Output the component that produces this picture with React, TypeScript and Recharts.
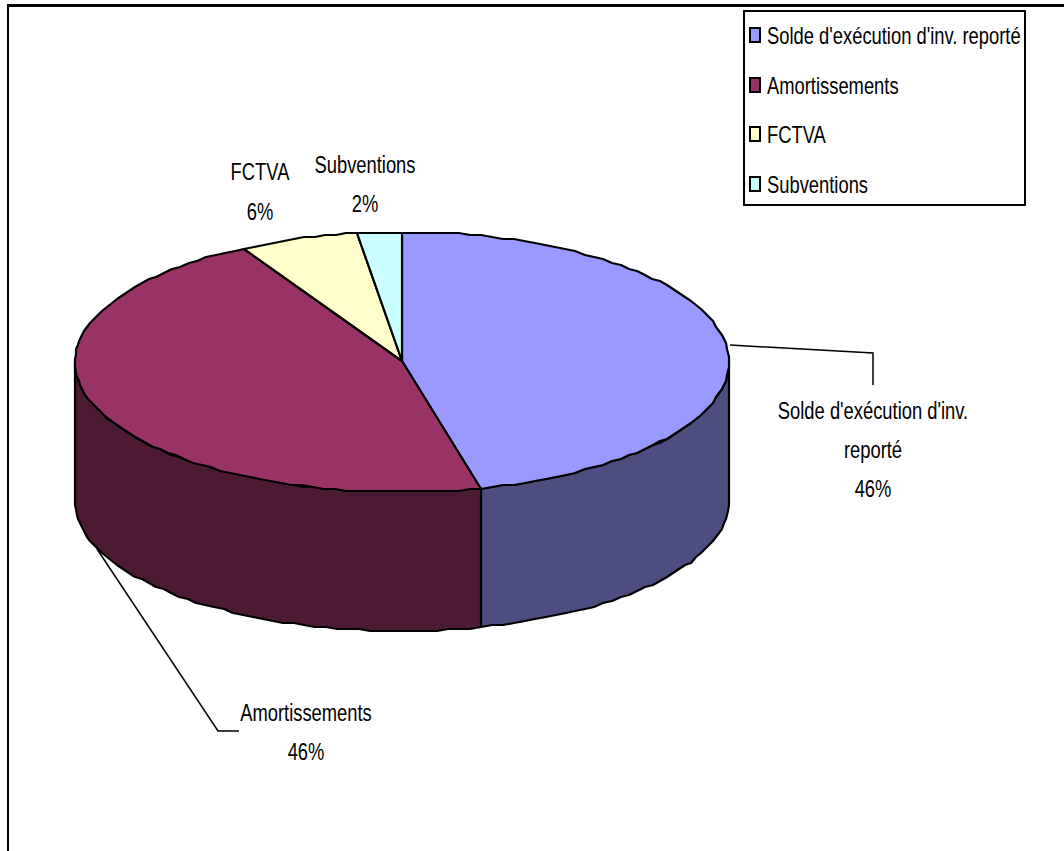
import { PieChart, Pie, Legend } from 'recharts'

const categories = ["Solde d'exécution d'inv. reporté", 'Amortissements', 'FCTVA', 'Subventions']
const values = [46.1, 45.9, 5.8, 2.2]
const topColors = ['#9999ff', '#993366', '#ffffcc', '#ccffff']
const wallColors = ['#4d4d80', '#4d1a33', '#80806a', '#6a8080']

const topData = categories.map((name, i) => ({ name, value: values[i], fill: topColors[i] }))
const wallData = categories.map((name, i) => ({ name, value: values[i], fill: wallColors[i] }))

const FONT = '"Liberation Sans", Arial, sans-serif'
const FONT_SIZE = 24
const SQUASH = 0.765
const Y_RATIO = 130 / 327
const DEPTH = 139

// where each label goes, baselines of every line and the leader if there is one
const labelLayout = [
  { x: 873, lines: ["Solde d'exécution d'inv.", 'reporté'], ys: [419, 458, 497], leader: '730,345 873,353 873,385' },
  { x: 306, lines: ['Amortissements'], ys: [721, 760], leader: '97,549 218,731 239,731' },
  { x: 260, lines: ['FCTVA'], ys: [180, 220], leader: '' },
  { x: 365, lines: ['Subventions'], ys: [173, 212], leader: '' },
]

const snap = (v: number) => Math.round(v / 2) * 2

function rim(cx: number, cy: number, r: number, from: number, to: number) {
  const pts: string[] = []
  const steps = Math.max(1, Math.ceil(Math.abs(to - from) / 2))
  for (let i = 0; i <= steps; i++) {
    const a = ((from + ((to - from) * i) / steps) * Math.PI) / 180
    pts.push(`${Math.round(cx + r * Math.cos(a))} ${snap(cy - r * Y_RATIO * Math.sin(a)) + 1}`)
  }
  return pts
}

function TopSector(props: any) {
  const { cx, cy, outerRadius, startAngle, endAngle, fill } = props
  const pts = rim(cx, cy, outerRadius, startAngle, endAngle)
  return <path d={`M${cx} ${cy} L${pts.join(' L')} Z`} fill={fill} stroke="#000" strokeWidth={2.2} strokeLinejoin="round" />
}

function WallSector(props: any) {
  const { cx, cy, outerRadius, startAngle, endAngle, fill } = props
  // only the front half of the cylinder shows
  const hi = Math.min(startAngle, 0)
  const lo = Math.max(endAngle, -180)
  if (hi <= lo) return <g />
  const upper = rim(cx, cy, outerRadius, hi, lo)
  const lower = rim(cx, cy + DEPTH, outerRadius, lo, hi)
  return <path d={`M${upper.join(' L')} L${lower.join(' L')} Z`} fill={fill} stroke="#000" strokeWidth={2.2} strokeLinejoin="round" />
}

function renderLabel(props: any) {
  const { index, percent } = props
  const l = labelLayout[index]
  const texts = [...l.lines, `${Math.round(percent * 100)}%`]
  return (
    <g key={index}>
      {l.leader && <polyline points={l.leader} fill="none" stroke="#000" strokeWidth={1.5} />}
      {texts.map((t, i) => (
        <text
          key={i}
          transform={`translate(${l.x} ${l.ys[i]}) scale(${SQUASH} 1)`}
          textAnchor="middle"
          fontFamily={FONT}
          fontSize={FONT_SIZE}
          fill="#000"
        >
          {t}
        </text>
      ))}
    </g>
  )
}

function LegendBox({ payload }: any) {
  // the wall pie also lands in the payload, only the top colours belong in the box
  const rows = (payload || []).filter((entry: any) => topColors.includes(entry.color))
  return (
    <div style={{ width: 283, height: 196, boxSizing: 'border-box', border: '2px solid #000', background: '#fff', position: 'relative' }}>
      {rows.map((entry: any, i: number) => (
        <div key={entry.value} style={{ position: 'absolute', left: 4, top: 13 + i * 49.7, height: 20, display: 'flex', alignItems: 'center', whiteSpace: 'nowrap' }}>
          <span style={{ width: 12, height: 16, boxSizing: 'border-box', border: '2px solid #000', background: entry.color, marginRight: 6, flex: 'none' }} />
          <span style={{ fontFamily: FONT, fontSize: FONT_SIZE, color: '#000', transform: `scaleX(${SQUASH})`, transformOrigin: 'left center', position: 'relative', top: 1 }}>{entry.value}</span>
        </div>
      ))}
    </div>
  )
}

export default function App() {
  return (
    <div style={{ position: 'absolute', left: 0, top: 0, width: 1064, height: 851, background: '#fff', overflow: 'hidden' }}>
      <div style={{ position: 'absolute', left: 7, top: 4, width: 1057, height: 3, background: '#000' }} />
      <div style={{ position: 'absolute', left: 7, top: 4, width: 2, height: 847, background: '#000' }} />
      <div style={{ position: 'absolute', left: 0, top: 0 }}>
        <PieChart width={1064} height={851} margin={{ top: 0, right: 0, bottom: 0, left: 0 }}>
          <Pie
            data={wallData}
            dataKey="value"
            nameKey="name"
            cx={402}
            cy={361}
            outerRadius={327}
            startAngle={90}
            endAngle={-270}
            legendType="none"
            shape={WallSector}
            isAnimationActive={false}
          />
          <Pie
            data={topData}
            dataKey="value"
            nameKey="name"
            cx={402}
            cy={361}
            outerRadius={327}
            startAngle={90}
            endAngle={-270}
            shape={TopSector}
            label={renderLabel}
            labelLine={false}
            isAnimationActive={false}
          />
          <Legend content={<LegendBox />} itemSorter={null} layout="vertical" align="right" verticalAlign="top" wrapperStyle={{ position: 'absolute', left: 743, top: 10, width: 283, height: 196 }} />
        </PieChart>
      </div>
    </div>
  )
}
